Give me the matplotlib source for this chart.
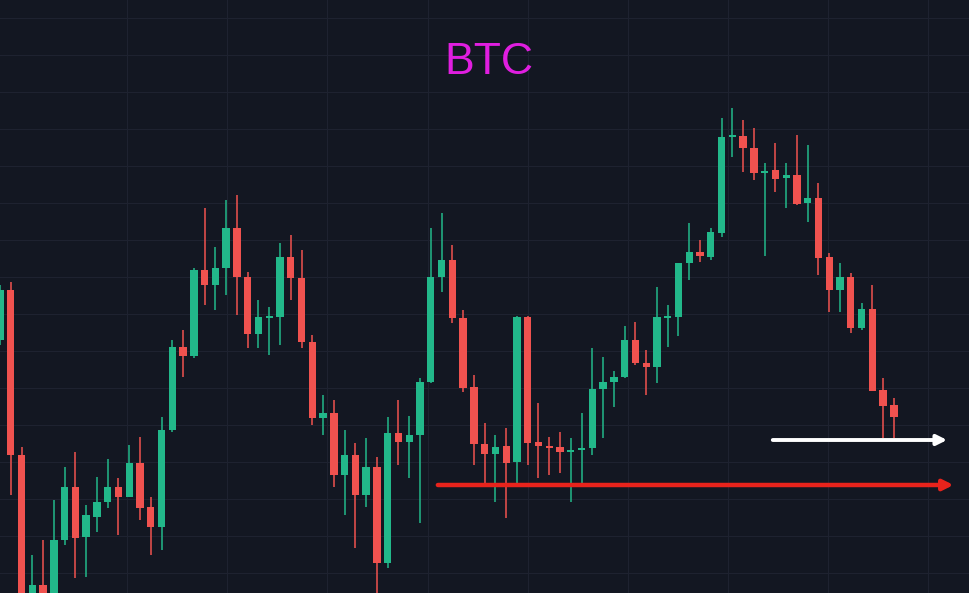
import matplotlib
matplotlib.use("Agg")
import matplotlib.pyplot as plt
import numpy as np

# Values (vertical scale: screen-like units, larger = lower price)
opens = [340,290,455,593,585,593,540,487,537,517,502,487,497,463,507,527,430,347,356,270,285,268,228,277,334,317,317,257,278,342,
         418,413,475,455,495,467,563,433,442,435,382,277,260,318,387,444,454,446,462,317,442,446,447,452,450,448,389,382,377,340,
         363,367,317,317,263,252,257,233,136,136,148,172,170,178,175,203,198,257,290,277,328,309,390,405]
closes = [290,455,600,585,593,540,487,538,515,502,487,497,463,508,527,430,347,356,270,285,268,228,277,334,317,316,257,278,342,418,
          413,475,455,495,467,563,433,442,435,382,277,260,318,388,444,454,447,463,317,443,446,448,452,450,448,389,382,377,340,363,
          367,317,316,263,252,256,232,137,135,148,173,171,179,175,204,198,258,290,277,328,309,391,406,417]
highs = [285,282,447,555,540,500,467,452,505,477,459,478,445,437,497,417,340,330,268,208,247,200,195,272,300,307,243,235,250,335,
         395,400,430,443,438,457,417,400,416,378,228,213,245,310,375,423,435,428,316,316,403,437,432,438,413,348,357,371,326,322,
         350,287,305,263,223,240,228,118,108,120,128,163,143,163,135,145,183,253,263,273,303,285,378,398]
lows = [345,495,600,600,600,600,545,578,577,532,508,535,497,520,555,550,432,377,358,305,310,295,315,348,348,355,345,300,348,425,
        435,487,515,548,507,593,568,465,478,523,383,292,323,392,465,483,502,518,483,465,478,475,473,502,483,455,438,407,378,365,
        395,383,347,336,280,262,260,237,157,172,180,256,192,208,205,222,275,312,312,333,330,391,438,438]
support_level = 485      # red arrow
current_level = 440      # white arrow
support_span = [40.4, 88.8]
current_span = [71.5, 88.2]
title = "BTC"

bg = "#131722"
up_c = "#22b88a"
dn_c = "#f0524f"

fig = plt.figure(figsize=(9.70, 5.93), dpi=100, facecolor=bg)
ax = fig.add_axes([0, 0, 1, 1], facecolor=bg)

for i, (o, c, h, l) in enumerate(zip(opens, closes, highs, lows)):
    col = up_c if c < o else dn_c   # inverted axis: smaller value = higher price
    ax.vlines(i, h, l, color=col, linewidth=1.1, zorder=2)
    lo, hi = min(o, c), max(o, c)
    ax.bar(i, max(hi - lo, 1.5), bottom=lo, width=0.68, color=col, zorder=3, linewidth=0)

ax.annotate("", xy=(support_span[1], support_level), xytext=(support_span[0], support_level),
            arrowprops=dict(arrowstyle="-|>,head_length=0.6,head_width=0.3", color="#e8231c", lw=3.2), zorder=4)
ax.annotate("", xy=(current_span[1], current_level), xytext=(current_span[0], current_level),
            arrowprops=dict(arrowstyle="-|>,head_length=0.6,head_width=0.3", color="white", lw=2.8), zorder=4)

ax.set_xlim(0, 90.07)
ax.set_ylim(593, 0)
ax.set_xticks(np.arange(11.8, 90, 9.3))
ax.set_yticks(np.arange(18, 593, 37))
ax.grid(True, color="#1e2230", linewidth=0.8, zorder=0)
ax.tick_params(length=0, labelbottom=False, labelleft=False)
for s in ax.spines.values():
    s.set_visible(False)

ax.text(0.504, 0.895, title, transform=ax.transAxes, ha="center", va="center",
        color="#e01ee0", fontsize=32, family="Liberation Sans")

fig.savefig("out.png", dpi=100, facecolor=bg)
